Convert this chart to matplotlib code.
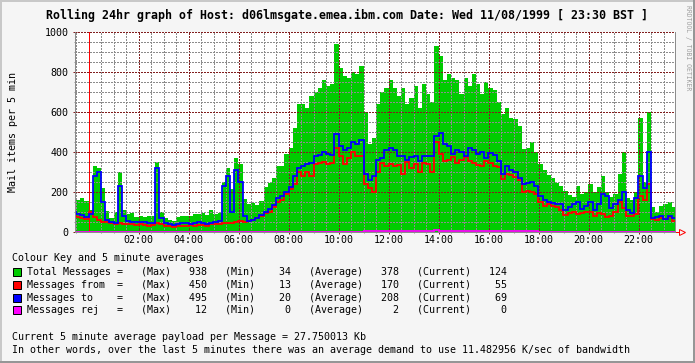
import numpy as np
import matplotlib.pyplot as plt
from matplotlib.patches import Rectangle

# 10 minute bins, hours relative to midnight (23:20 of the previous day first)
t0 = -40 / 60.0
step = 10 / 60.0

total = [
    210, 160, 170, 155, 110, 330, 320, 220, 105, 70, 100, 300, 110, 90, 95, 77, 80, 75, 78, 80, 350, 100, 70, 60, 55,
    75, 80, 82, 78, 92, 90, 95, 85, 108, 88, 95, 250, 320, 215, 370, 340, 165, 140, 145, 135, 155, 225, 245, 270,
    330, 330, 390, 420, 520, 640, 640, 620, 680, 700, 720, 760, 730, 740, 938, 820, 780, 770, 800, 790, 830, 600, 440, 470,
    640, 700, 720, 760, 720, 680, 720, 640, 670, 730, 620, 740, 690, 650, 930, 880, 760, 790, 770, 760, 690, 770, 730, 790,
    740, 690, 750, 720, 710, 650, 590, 620, 570, 565, 530, 415, 420, 450, 400, 340, 310, 285, 270, 245, 230, 205, 185, 175,
    230, 190, 200, 240, 200, 225, 280, 200, 175, 190, 290, 400, 170, 160, 200, 570, 250, 600, 125, 100, 130, 140, 150, 124,
]
msg_from = [
    80, 75, 70, 65, 100, 75, 60, 50, 50, 45, 40, 45, 40, 40, 38, 35, 40, 35, 32, 35, 45, 40, 30, 30, 25,
    30, 32, 30, 35, 30, 35, 35, 30, 40, 38, 42, 45, 45, 45, 50, 55, 50, 55, 62, 70, 78, 95, 100, 125,
    150, 160, 190, 215, 240, 300, 280, 300, 280, 340, 345, 350, 340, 345, 420, 380, 340, 370, 400, 380, 380, 240, 220, 200,
    300, 345, 330, 340, 330, 335, 290, 350, 320, 340, 300, 345, 340, 300, 450, 390, 355, 360, 375, 345, 360, 375, 355, 345,
    335, 330, 355, 345, 330, 325, 265, 290, 285, 275, 260, 200, 205, 200, 190, 150, 130, 140, 130, 125, 110, 85, 95, 100,
    90, 95, 100, 100, 80, 95, 90, 75, 80, 100, 150, 120, 80, 80, 90, 180, 160, 240, 65, 60, 68, 65, 75, 55,
]
msg_to = [
    100, 90, 85, 75, 90, 280, 300, 150, 60, 50, 45, 230, 80, 55, 50, 48, 50, 48, 45, 45, 320, 70, 45, 40, 35,
    40, 45, 45, 42, 45, 48, 45, 40, 45, 50, 55, 230, 280, 100, 310, 250, 80, 55, 60, 70, 85, 100, 115, 135,
    170, 180, 200, 225, 280, 320, 330, 340, 345, 380, 385, 400, 390, 385, 490, 430, 410, 420, 450, 440, 460, 290, 260, 280,
    360, 370, 410, 420, 410, 380, 380, 360, 375, 380, 355, 380, 380, 380, 480, 495, 440, 430, 390, 410, 400, 380, 420, 410,
    390, 400, 370, 395, 385, 355, 290, 330, 310, 300, 270, 240, 245, 250, 230, 180, 160, 150, 145, 140, 140, 110, 125, 140,
    150, 115, 130, 150, 110, 140, 190, 180, 120, 140, 160, 200, 110, 95, 170, 280, 220, 400, 70, 75, 80, 65, 80, 69,
]
msg_rej = [
    0, 0, 0, 0, 0, 0, 0, 0, 0, 0, 0, 0, 0, 0, 0, 0, 0, 0, 0, 0, 0, 0, 0, 0, 0,
    0, 0, 0, 0, 0, 0, 0, 0, 0, 0, 0, 0, 0, 0, 0, 0, 0, 0, 0, 0, 0, 0, 0, 0,
    0, 0, 0, 0, 0, 0, 0, 0, 0, 0, 0, 0, 0, 0, 0, 0, 0, 0, 0, 0, 0, 3, 4, 3,
    4, 3, 5, 4, 3, 4, 3, 3, 5, 4, 3, 4, 3, 4, 12, 4, 3, 4, 5, 3, 4, 3, 4, 3,
    4, 3, 4, 3, 5, 3, 4, 3, 3, 4, 3, 3, 4, 3, 3, 0, 0, 0, 0, 0, 0, 0, 0, 0,
    0, 0, 0, 0, 0, 0, 0, 0, 0, 0, 0, 0, 0, 0, 0, 0, 0, 0, 0, 0, 0, 0, 0, 0,
]

series_names = ['Total Messages =', 'Messages from  =', 'Messages to    =', 'Messages rej   =']
series_colors = ['#00cc00', '#ff0000', '#0000ff', '#ff00ff']
stat_max = [938, 450, 495, 12]
stat_min = [34, 13, 20, 0]
stat_avg = [378, 170, 208, 2]
stat_cur = [124, 55, 69, 0]

major_hours = [2, 4, 6, 8, 10, 12, 14, 16, 18, 20, 22]
hour_labels = ['%02d:00' % h for h in major_hours]

title = 'Rolling 24hr graph of Host: d06lmsgate.emea.ibm.com Date: Wed 11/08/1999 [ 23:30 BST ]'
payload_line = 'Current 5 minute average payload per Message = 27.750013 Kb'
demand_line = ('In other words, over the last 5 minutes there was an average demand '
               'to use 11.482956 K/sec of bandwidth')

W, H = 695, 363
plt.rcParams['font.family'] = 'DejaVu Sans Mono'
plt.rcParams['lines.scale_dashes'] = False
small = 7.18
grid_col = '#8c8c8c'
mgrid_col = '#821e1e'


def fx(px):
    return px / W


def fy(py):
    return 1 - py / H


fig = plt.figure(figsize=(W / 100, H / 100), dpi=100, facecolor='#f5f5f5')
# 3d style border
fig.add_artist(Rectangle((0, fy(2)), 1, 2 / H, transform=fig.transFigure, color='#c8c8c8', lw=0))
fig.add_artist(Rectangle((0, 0), 2 / W, 1, transform=fig.transFigure, color='#c8c8c8', lw=0))
fig.add_artist(Rectangle((0, 0), 1, 2 / H, transform=fig.transFigure, color='#969696', lw=0))
fig.add_artist(Rectangle((fx(W - 2), 0), 2 / W, 1, transform=fig.transFigure, color='#969696', lw=0))

ax = fig.add_axes([fx(75), fy(232), 600 / W, 200 / H])
ax.set_facecolor('white')

edges = t0 + step * np.arange(len(total) + 1)
ax.stairs(total, edges, fill=True, color=series_colors[0], lw=0, zorder=1)
ax.stairs(msg_from, edges, baseline=None, color=series_colors[1], lw=1.3, zorder=3)
ax.stairs(msg_to, edges, baseline=None, color=series_colors[2], lw=1.3, zorder=3.1)
ax.stairs(msg_rej, edges, baseline=None, color=series_colors[3], lw=1.3, zorder=3.2)

ax.set_xlim(-0.54, 23.46)
ax.set_ylim(0, 1000)
ax.set_xticks(major_hours)
ax.set_xticklabels(hour_labels)
ax.set_xticks([h / 2 for h in range(-1, 47) if h % 4 != 0], minor=True)
ax.set_yticks(range(0, 1001, 200))
ax.set_yticks([v for v in range(50, 1000, 50) if v % 200 != 0], minor=True)

ax.set_axisbelow(False)
ax.grid(which='major', color=mgrid_col, linestyle=(0, (1.44, 1.44)), lw=0.72, antialiased=False)
ax.grid(which='minor', color=grid_col, linestyle=(0, (1.44, 1.44)), lw=0.72, antialiased=False)
ax.axvline(0, color='#ff0000', lw=0.72, zorder=2.6)

ax.tick_params(which='major', direction='inout', length=2.88, width=0.72, color=mgrid_col, labelsize=small)
ax.tick_params(which='minor', direction='inout', length=1.44, width=0.72, color=grid_col)
ax.tick_params(axis='y', which='major', pad=3.2)
ax.tick_params(axis='x', which='major', pad=0.8)
for side in ['left', 'bottom', 'right']:
    ax.spines[side].set_color(grid_col)
    ax.spines[side].set_linewidth(0.72)
    ax.spines[side].set_zorder(4)
ax.spines['top'].set_visible(False)

# red arrow at the end of the time axis
ax.plot([1.0, 1.0 + 4 / 600], [0, 0], color='#ff0000', lw=0.72, transform=ax.transAxes, clip_on=False)
ax.plot([1.0 + 6.5 / 600], [0], marker='>', ms=4.5, mfc='none', mec='#ff0000', mew=0.72,
        transform=ax.transAxes, clip_on=False)

fig.text(fx(347), fy(19), title, fontsize=8.37, fontweight='bold', ha='center', va='baseline')
fig.text(fx(13.5), fy(132), 'Mail items per 5 min', fontsize=small, rotation=90, ha='center', va='center')
fig.text(fx(688), fy(5), 'RRDTOOL / TOBI OETIKER', fontsize=4.7, rotation=270, ha='center', va='top',
         color='#a0a0a0')

fig.text(fx(12), fy(261), 'Colour Key and 5 minute averages', fontsize=small, va='baseline')
for i in range(4):
    base = 275.3 + 12.67 * i
    fig.add_artist(Rectangle((fx(12.5), fy(base + 1)), 8.5 / W, 8 / H, transform=fig.transFigure,
                             facecolor=series_colors[i], edgecolor='black', lw=0.72))
    row = '%s   (Max)%6d   (Min)%6d   (Average)%6d   (Current)%6d' % (
        series_names[i], stat_max[i], stat_min[i], stat_avg[i], stat_cur[i])
    fig.text(fx(26.7), fy(base), row, fontsize=small, va='baseline')
fig.text(fx(12), fy(340), payload_line, fontsize=small, va='baseline')
fig.text(fx(12), fy(352.7), demand_line, fontsize=small, va='baseline')

fig.savefig('out.png', dpi=100, facecolor=fig.get_facecolor())
